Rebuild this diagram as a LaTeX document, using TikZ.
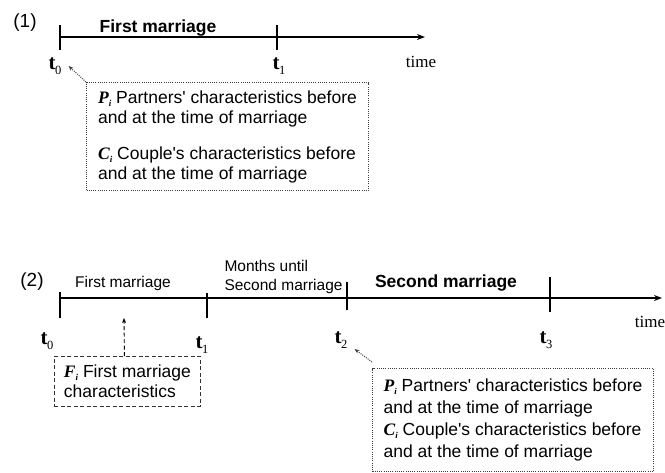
\documentclass[tikz,border=0pt]{standalone}
\usepackage{fontspec}
\setmainfont{Liberation Sans}
\newfontfamily\timesfont{Liberation Serif}
\usetikzlibrary{arrows.meta}
\tikzset{>=stealth}
\newcommand{\tsub}[2]{{\timesfont\bfseries\fontsize{21}{21}\selectfont #1\kern-0.5pt\raisebox{-0.5ex}{\mdseries\fontsize{12.5}{12.5}\selectfont #2}}}
\newcommand{\charvar}[1]{{\timesfont\bfseries\itshape #1\raisebox{-0.4ex}{\fontsize{9}{9}\selectfont i}}}
\tikzset{%
    axisline/.style={line width=1.4pt,-{Stealth[length=8pt,width=6pt]}},
    tickmark/.style={line width=1.1pt},
    panel/.style={font=\fontsize{19}{19}\selectfont},
    boldlab/.style={font=\fontsize{17.5}{21}\selectfont\bfseries},
    smalllab/.style={font=\fontsize{15.5}{18.5}\selectfont},
    tlab/.style={inner sep=0pt},
    timelab/.style={font=\timesfont\fontsize{17}{17}\selectfont},
    notebox/.style={anchor=north west,align=left,inner sep=4pt,font=\fontsize{17.5}{20}\selectfont},
    dotbox/.style={notebox,draw=black!75,line width=1pt,dash pattern=on 1pt off 1.2pt},
    dashbox/.style={notebox,draw=black!80,line width=0.9pt,dash pattern=on 4pt off 2.5pt},
    dotarrow/.style={draw=black!75,line width=1pt,dash pattern=on 1pt off 1.2pt,-{Stealth[length=5pt,width=4pt]}},
    dasharrow/.style={line width=0.9pt,dash pattern=on 4pt off 2.5pt,-{Stealth[length=5pt,width=4pt]}}
}
\begin{document}
\begin{tikzpicture}[x=1pt,y=-1pt]
\useasboundingbox (0,0) rectangle (665,472);
% (1) first marriage only
\node[panel] (lab1) at (25,23) {(1)};
\draw[axisline] (60,37) -- (425,37);
\draw[tickmark] (60,25) -- (60,50);
\draw[tickmark] (277,25) -- (277,50);
\node[boldlab] (fm1) at (158,28) {First marriage};
\node[tlab] (t0a) at (55,66) {\tsub{t}{0}};
\node[tlab] (t1a) at (279,66) {\tsub{t}{1}};
\node[timelab] (time1) at (421,62) {time};
\node[dotbox,minimum width=282pt,minimum height=108pt] (box1) at (86,82)
  {\charvar{P} Partners\textquotesingle{} characteristics before\\
   and at the time of marriage\\[16pt]
   \charvar{C} Couple\textquotesingle{}s characteristics before\\
   and at the time of marriage};
\draw[dotarrow] (box1.north west) -- ([xshift=7pt]t0a.east);
% (2) first and second marriage
\node[panel] (lab2) at (32,282) {(2)};
\draw[axisline] (60,298) -- (662,298);
\draw[tickmark] (60,292) -- (60,318);
\draw[tickmark] (207,293) -- (207,318);
\draw[tickmark] (347,282) -- (347,310);
\draw[tickmark] (550,277) -- (550,312);
\node[smalllab] (fm2) at (123,283) {First marriage};
\node[smalllab,align=left,anchor=west] (until) at (221,277) {Months until\\Second marriage};
\node[boldlab] (sm2) at (446,283) {Second marriage};
\node[tlab] (t0b) at (47,341) {\tsub{t}{0}};
\node[tlab] (t1b) at (202,345) {\tsub{t}{1}};
\node[tlab] (t2b) at (341,340) {\tsub{t}{2}};
\node[tlab] (t3b) at (546,340) {\tsub{t}{3}};
\node[timelab] (time2) at (650,322) {time};
\node[dashbox,minimum width=146pt,minimum height=50pt] (boxf) at (54,356)
  {\charvar{F} First marriage\\characteristics};
\coordinate (fup) at (124,318);
\draw[dasharrow] ([xshift=-3pt]boxf.north) -- (fup);
\node[dotbox,minimum width=281pt,minimum height=103pt,font=\fontsize{17.5}{22}\selectfont] (box2) at (372,368)
  {\charvar{P} Partners\textquotesingle{} characteristics before\\
   and at the time of marriage\\
   \charvar{C} Couple\textquotesingle{}s characteristics before\\
   and at the time of marriage};
\draw[dotarrow] ([yshift=6pt]box2.north west) -- ([shift={(7pt,-9pt)}]t2b.east);
\end{tikzpicture}
\end{document}
